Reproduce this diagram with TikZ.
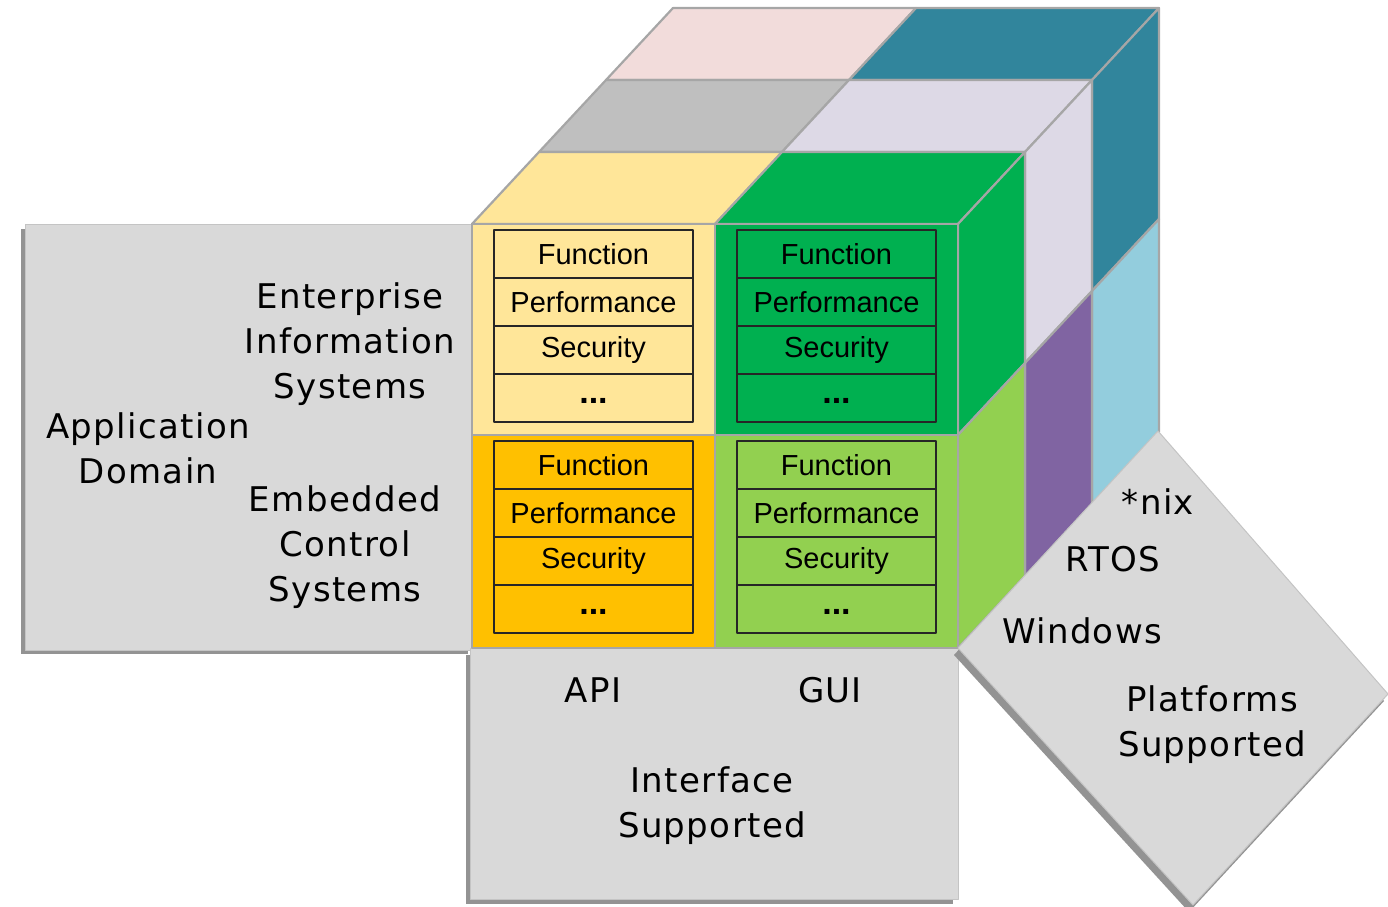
\documentclass[tikz,border=0pt]{standalone}
\usepackage{fontspec}
\setmainfont{Liberation Sans}
\newfontfamily\labelfont[LetterSpace=4]{DejaVu Sans}
\usepackage{tikz}

\definecolor{edgegray}{HTML}{A6A6A6}
\definecolor{panelgray}{HTML}{D9D9D9}
\definecolor{panelline}{HTML}{C4C4C4}
\definecolor{shadowgray}{HTML}{939393}
\definecolor{yellowlt}{HTML}{FFE699}
\definecolor{amber}{HTML}{FFC000}
\definecolor{greendk}{HTML}{00B050}
\definecolor{greenlt}{HTML}{92D050}
\definecolor{graytop}{HTML}{BFBFBF}
\definecolor{lavender}{HTML}{DDD9E6}
\definecolor{purplish}{HTML}{8064A2}
\definecolor{pinktop}{HTML}{F2DCDB}
\definecolor{tealdk}{HTML}{31859C}
\definecolor{bluelt}{HTML}{93CDDD}

\begin{document}
\begin{tikzpicture}[x=0.5pt,y=-0.5pt,line join=round,
    face/.style={draw=edgegray,line width=1.1pt},
    panel/.style={fill=panelgray,draw=panelline,line width=0.5pt},
    shade/.style={fill=shadowgray},
    rowcell/.style={draw=black!85,line width=0.6pt,minimum width=99.5pt,minimum height=24pt,
      inner sep=0pt,font=\fontsize{14.5}{16}\selectfont},
    lbl/.style={align=center,inner sep=0pt,font=\labelfont\fontsize{17}{22.5}\selectfont}]

  \useasboundingbox (0,0) rectangle (1388,906);

  % the two flat panels and their shadows
  \fill[shade] (21,229) rectangle (468,654);
  \draw[panel] (25,224) rectangle (472,650);
  \fill[shade] (466,655) rectangle (953,904);
  \draw[panel] (470,648) rectangle (958,899);

  % cube layers, back to front
  \foreach \k/\ctl/\ctr/\clo in {2/pinktop/tealdk/bluelt,1/graytop/lavender/purplish,0/yellowlt/greendk/greenlt} {
    \draw[face,fill=\ctl] (472+67*\k,224-72*\k) -- ++(243,0) -- ++(67,-72) -- ++(-243,0) -- cycle;
    \draw[face,fill=\ctr] (715+67*\k,224-72*\k) -- ++(243,0) -- ++(67,-72) -- ++(-243,0) -- cycle;
    \draw[face,fill=\ctr] (958+67*\k,224-72*\k) -- ++(67,-72) -- ++(0,211) -- ++(-67,72) -- cycle;
    \draw[face,fill=\clo] (958+67*\k,435-72*\k) -- ++(67,-72) -- ++(0,213) -- ++(-67,72) -- cycle;
  }

  % front face
  \draw[face,fill=yellowlt] (472,224) rectangle (715,435);
  \draw[face,fill=greendk] (715,224) rectangle (958,435);
  \draw[face,fill=amber] (472,435) rectangle (715,648);
  \draw[face,fill=greenlt] (715,435) rectangle (958,648);

  % quality tables
  \foreach \tx/\ty/\tn in {494/230/eisapi,737/230/eisgui,494/441/ecsapi,737/441/ecsgui} {
    \foreach \lbl [count=\row from 0] in {Function,Performance,Security,\raisebox{-5pt}{\fontsize{17}{18}\selectfont\textbf{...}}} {
      \node[rowcell] (\tn-\row) at (\tx+99.5,\ty+24+48*\row) {\lbl};
    }
  }

  % platforms panel
  \fill[shade] (954,655) -- (1154,438) -- (1384,701) -- (1189,912) -- cycle;
  \draw[panel] (958,648) -- (1158,431) -- (1388,694) -- (1193,905) -- cycle;

  \node[lbl] (eis) at (350,344) {Enterprise\\Information\\Systems};
  \node[lbl] (appdom) at (148,448) {Application\\Domain};
  \node[lbl] (ecs) at (345,547) {Embedded\\Control\\Systems};
  \node[lbl] (api) at (593,690) {API};
  \node[lbl] (gui) at (830,690) {GUI};
  \node[lbl] (iface) at (712,806) {Interface\\Supported};
  \node[lbl] (nix) at (1158,502) {*nix};
  \node[lbl] (rtos) at (1113,559) {RTOS};
  \node[lbl] (win) at (1082,631) {Windows};
  \node[lbl] (plat) at (1212,725) {Platforms\\Supported};
\end{tikzpicture}
\end{document}
